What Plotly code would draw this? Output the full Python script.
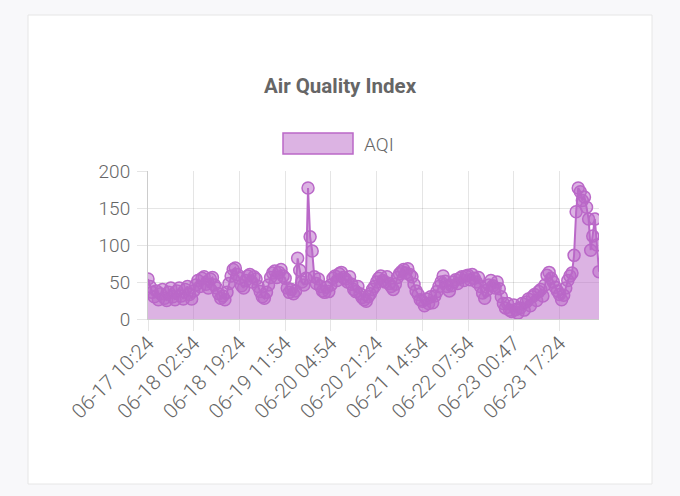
import plotly.graph_objects as go

# AQI readings left to right (22 readings per labelled tick)
aqi = [
    54, 44, 36, 30, 38, 26, 34, 40, 28, 25, 36, 42, 30, 26, 38, 42, 31, 27, 40, 44, 33, 27,
    38, 46, 52, 44, 55, 57, 47, 42, 54, 56, 46, 42, 34, 28, 31, 26, 36, 48, 58, 67, 69, 60,
    55, 45, 42, 52, 58, 60, 50, 57, 54, 44, 37, 30, 28, 36, 46, 56, 62, 65, 56, 63, 67, 58,
    55, 42, 36, 40, 34, 38, 82, 66, 50, 46, 55, 177, 111, 92, 57, 48, 54, 44, 38, 36, 43, 37,
    46, 55, 58, 52, 61, 63, 56, 54, 50, 57, 47, 40, 37, 44, 34, 29, 26, 24, 30, 34, 40, 44,
    50, 55, 58, 52, 50, 57, 48, 44, 40, 47, 56, 61, 64, 67, 62, 68, 60, 57, 47, 38, 33, 26,
    24, 18, 27, 21, 30, 22, 31, 37, 44, 50, 58, 51, 44, 38, 45, 50, 53, 48, 55, 57, 52, 58,
    59, 53, 60, 55, 50, 56, 44, 35, 28, 39, 46, 52, 45, 42, 50, 41, 30, 21, 15, 21, 12, 10,
    19, 13, 8, 15, 21, 12, 23, 27, 18, 30, 33, 25, 37, 40, 31, 46, 59, 63, 55, 50, 43, 38,
    33, 26, 32, 42, 52, 58, 62, 86, 145, 177, 172, 160, 165, 151, 135, 93, 112, 135, 100, 64,
]

tick_labels = [
    '06-17 10:24', '06-18 02:54', '06-18 19:24', '06-19 11:54', '06-20 04:54',
    '06-20 21:24', '06-21 14:54', '06-22 07:54', '06-23 00:47', '06-23 17:24',
]
tick_step = 22
tick_pos = [i * tick_step for i in range(len(tick_labels))]

purple = '#BA68C8'
purple_fill = 'rgba(186,104,200,0.5)'
text_color = '#666666'
grid_color = 'rgba(0,0,0,0.1)'

x = list(range(len(aqi)))

fig = go.Figure()
fig.add_trace(go.Scatter(
    x=x, y=aqi, name='AQI', mode='lines+markers',
    fill='tozeroy', fillcolor=purple_fill,
    line=dict(color=purple, width=2),
    marker=dict(size=12, color=purple_fill, line=dict(color=purple, width=1.5)),
    showlegend=False, hoverinfo='skip',
))

# plot area is 148..599 px across, 171..319 px down
def px_x(v):
    return (v - 148) / 451

def px_y(v):
    return (319 - v) / 148

shapes = [
    # white card
    dict(type='rect', xref='paper', yref='paper', layer='below',
         x0=px_x(28), x1=px_x(652), y0=px_y(484), y1=px_y(15),
         fillcolor='white', line=dict(color='#e6e6e6', width=1)),
    # legend swatch
    dict(type='rect', xref='paper', yref='paper',
         x0=px_x(283), x1=px_x(353), y0=px_y(154), y1=px_y(133),
         fillcolor=purple_fill, line=dict(color=purple, width=1.5)),
]

fig.update_layout(
    width=680, height=496, autosize=False,
    margin=dict(l=148, r=81, t=171, b=177),
    paper_bgcolor='#f8f8fa', plot_bgcolor='white',
    font=dict(family='Roboto', size=19, color=text_color),
    title=dict(text='Air Quality Index', x=0.5, xref='container', xanchor='center',
               y=1 - 86 / 496, yref='container', yanchor='middle',
               font=dict(family='Roboto', size=20.5, color=text_color, weight='bold')),
    shapes=shapes,
    annotations=[dict(text='AQI', xref='paper', yref='paper', x=px_x(362), y=px_y(144),
                      xanchor='left', yanchor='middle', showarrow=False,
                      font=dict(family='Roboto', size=19, color=text_color, weight=300))],
    showlegend=False,
)

fig.update_xaxes(
    range=[0, len(aqi) - 1], tickmode='array', tickvals=tick_pos, ticktext=tick_labels,
    tickangle=-45, ticks='outside', ticklen=11, tickcolor=grid_color,
    ticklabelstandoff=-8,
    showgrid=True, gridcolor=grid_color, zeroline=False,
    showline=True, linecolor='rgba(0,0,0,0.2)', linewidth=1,
    tickfont=dict(family='Roboto', size=20.5, color=text_color, weight=300),
)
fig.update_yaxes(
    range=[0, 200], dtick=50, ticks='outside', ticklen=10, tickcolor=grid_color,
    ticklabelstandoff=3,
    showgrid=True, gridcolor=grid_color, zeroline=False,
    showline=True, linecolor='rgba(0,0,0,0.2)', linewidth=1,
    tickfont=dict(family='Roboto', size=19, color=text_color, weight=300),
)

# drop the default 8px page margin so the figure sits at the window corner
fig.write_html('out.html', config={'displayModeBar': False},
               post_script="document.body.style.margin='0';")
